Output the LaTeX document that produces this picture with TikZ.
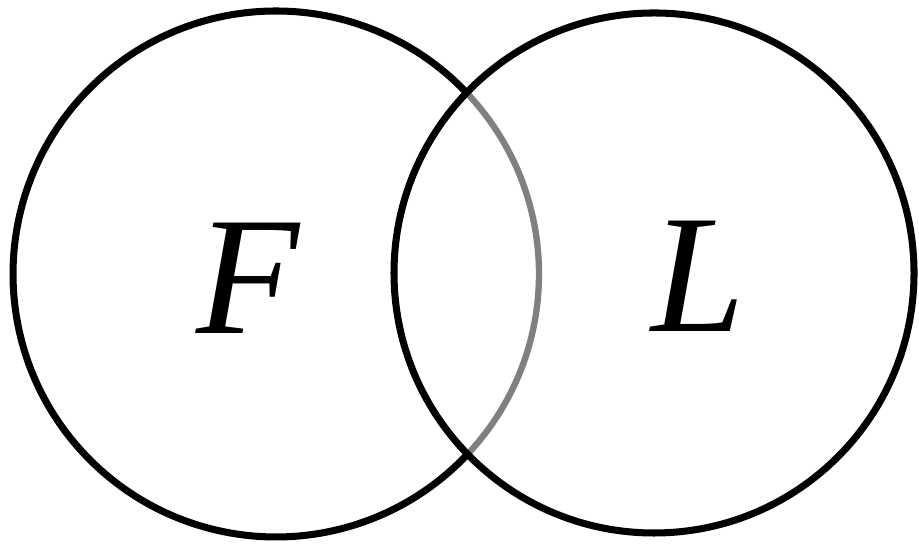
\documentclass[tikz,border=0pt]{standalone}
\usepackage{fontspec}
\setmainfont{Liberation Serif}
\usetikzlibrary{calc,positioning}
\definecolor{vennInk}{RGB}{0,0,0}
\definecolor{vennShade}{RGB}{128,128,128}

\begin{document}
\begin{tikzpicture}[
  setline/.style={draw=vennInk,line width=2pt},
  hidden/.style={draw=vennShade,line width=1.8pt},
  setname/.style={font=\fontsize{48}{58}\selectfont\itshape,text=vennInk,inner sep=0pt}
]

\useasboundingbox (0,0) rectangle (9.19,5.44);

\coordinate (fcenter) at (2.76,2.70);
\coordinate (lcenter) at (6.54,2.71);

% left set: outer part black, part inside the right set grey
\draw[hidden] ($(fcenter)+(-43.4:2.63)$) arc[start angle=-43.4,end angle=43.4,radius=2.63];
\draw[setline] ($(fcenter)+(43.4:2.63)$) arc[start angle=43.4,end angle=316.6,radius=2.63];

% right set
\draw[setline] (lcenter) circle[radius=2.60];

\node[setname] (flabel) at (2.48,2.66) {F};
\node[setname] (llabel) at (6.98,2.68) {L};

\end{tikzpicture}
\end{document}
